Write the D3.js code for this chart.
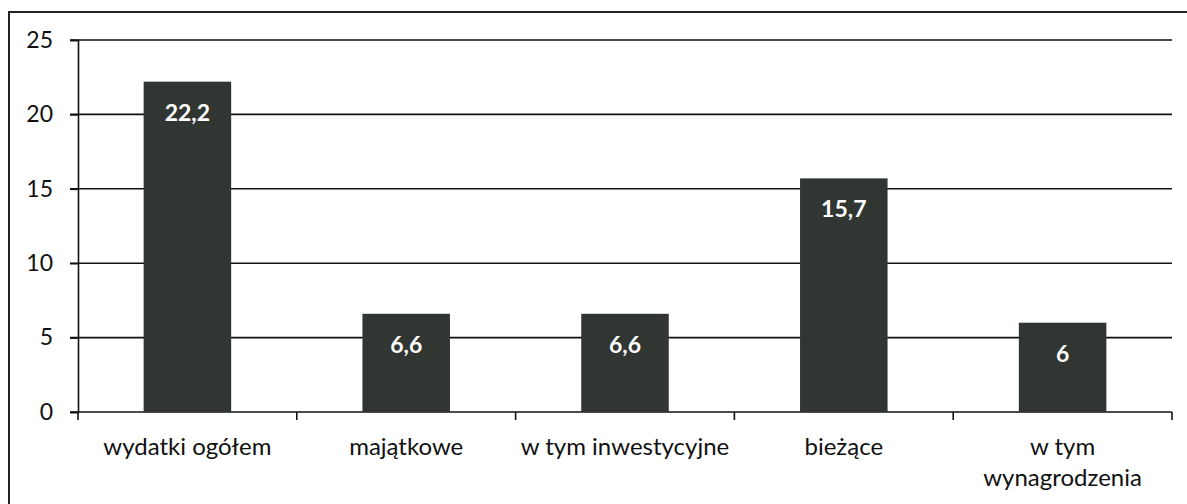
<!DOCTYPE html>
<html>
<head>
<meta charset="utf-8">
<script src="https://cdn.jsdelivr.net/npm/d3@7"></script>
<style>
  body { margin: 0; background: #fff; }
  text { font-family: Lato, "Open Sans", sans-serif; }
</style>
</head>
<body>
<div id="chart"></div>
<script>
// Chart data
const categories = ["wydatki ogółem", "majątkowe", "w tym inwestycyjne", "bieżące", "w tym\nwynagrodzenia"];
const values = [22.2, 6.6, 6.6, 15.7, 6];
const valueLabels = ["22,2", "6,6", "6,6", "15,7", "6"];
const yTicks = [0, 5, 10, 15, 20, 25];

const width = 1187, height = 504;
const margin = { left: 78, right: 15, top: 40, bottom: 92 };

const svg = d3.select("#chart").append("svg")
  .attr("width", width)
  .attr("height", height);

// Frame around the chart
svg.append("path")
  .attr("d", `M9,${height} L9,12 L${width},12`)
  .attr("fill", "none")
  .attr("stroke", "#222")
  .attr("stroke-width", 2);

const x = d3.scaleBand()
  .domain(categories)
  .range([margin.left, width - margin.right])
  .paddingInner(0.6)
  .paddingOuter(0.3);

const y = d3.scaleLinear()
  .domain([0, 25])
  .range([height - margin.bottom, margin.top]);

// Gridlines
svg.append("g")
  .selectAll("line")
  .data(yTicks)
  .join("line")
  .attr("x1", margin.left - 8)
  .attr("x2", width - margin.right)
  .attr("y1", d => y(d))
  .attr("y2", d => y(d))
  .attr("stroke", "#111")
  .attr("stroke-width", 1.6);

// Y axis
svg.append("g")
  .attr("transform", `translate(${margin.left},0)`)
  .call(d3.axisLeft(y).tickValues(yTicks).tickSize(8).tickPadding(17))
  .call(g => g.select(".domain").attr("stroke", "#111").attr("stroke-width", 1.6))
  .call(g => g.selectAll(".tick line").attr("stroke", "#111").attr("stroke-width", 1.6))
  .call(g => g.selectAll(".tick text")
    .attr("font-size", 23)
    .attr("fill", "#111")
    .style("font-family", "Lato, 'Open Sans', sans-serif"));

// Category separators below the axis
const sepPositions = d3.range(0, categories.length + 1).map(i => margin.left + i * (width - margin.right - margin.left) / categories.length);
svg.append("g")
  .selectAll("line")
  .data(sepPositions)
  .join("line")
  .attr("x1", d => d)
  .attr("x2", d => d)
  .attr("y1", y(0))
  .attr("y2", y(0) + 8)
  .attr("stroke", "#111")
  .attr("stroke-width", 1.6);

// Bars
svg.append("g")
  .selectAll("rect")
  .data(values)
  .join("rect")
  .attr("x", (d, i) => x(categories[i]))
  .attr("width", x.bandwidth())
  .attr("y", d => y(d))
  .attr("height", d => y(0) - y(d))
  .attr("fill", "#313633");

// Value labels
svg.append("g")
  .selectAll("text")
  .data(values)
  .join("text")
  .attr("x", (d, i) => x(categories[i]) + x.bandwidth() / 2)
  .attr("y", d => y(d) + 39)
  .attr("text-anchor", "middle")
  .attr("font-size", 23)
  .attr("font-weight", "bold")
  .attr("fill", "#fff")
  .text((d, i) => valueLabels[i]);

// Category labels
const catG = svg.append("g")
  .selectAll("text")
  .data(categories)
  .join("text")
  .attr("x", d => x(d) + x.bandwidth() / 2)
  .attr("y", 455)
  .attr("text-anchor", "middle")
  .attr("font-size", 24)
  .attr("fill", "#111");

catG.each(function(d) {
  const lines = d.split("\n");
  d3.select(this).selectAll("tspan")
    .data(lines)
    .join("tspan")
    .attr("x", x(d) + x.bandwidth() / 2)
    .attr("dy", (l, i) => i === 0 ? 0 : 31)
    .text(l => l);
});
</script>
</body>
</html>
